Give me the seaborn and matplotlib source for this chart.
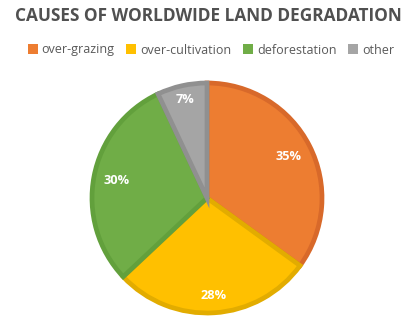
import matplotlib
matplotlib.use("Agg")
import matplotlib.pyplot as plt
import numpy as np
import seaborn as sns

# Causes of worldwide land degradation (share, %)
categories = ["over-grazing", "over-cultivation", "deforestation", "other"]
shares = [35, 28, 30, 7]
labels = ["35%", "28%", "30%", "7%"]

fill_colors = ["#ED7D31", "#FFC000", "#70AD47", "#A5A5A5"]
edge_colors = ["#D8692A", "#E2AC00", "#62A03C", "#909090"]

sns.set_theme(style="white")
plt.rcParams["font.family"] = ["Open Sans", "DejaVu Sans"]

fig = plt.figure(figsize=(4.14, 3.24), dpi=100)
fig.patch.set_facecolor("white")

ax = fig.add_axes([92 / 414, 11 / 324, 230 / 414, 230 / 324])
palette = sns.color_palette(fill_colors)

wedges, texts = ax.pie(
    shares,
    colors=palette,
    startangle=90,
    counterclock=False,
    wedgeprops=dict(linewidth=3.4),
)
for w, ec in zip(wedges, edge_colors):
    w.set_edgecolor(ec)

# value labels inside each slice
radii = [0.80, 0.85, 0.80, 0.88]
angle = 90.0
total = sum(shares)
for v, lab, r in zip(shares, labels, radii):
    span = 360.0 * v / total
    mid = np.deg2rad(angle - span / 2)
    ax.text(r * np.cos(mid), r * np.sin(mid), lab, ha="center", va="center",
            color="white", fontsize=9.2, fontweight="bold")
    angle -= span
ax.set_xlim(-1, 1)
ax.set_ylim(-1, 1)
ax.set_aspect("equal")
ax.axis("off")

fig.text(208 / 414, 1 - 16 / 324, "CAUSES OF WORLDWIDE LAND DEGRADATION",
         ha="center", va="center", fontsize=12.4, fontweight="bold", color="#505050")

handles = [plt.Rectangle((0, 0), 1, 1, facecolor=c, edgecolor="none") for c in fill_colors]
fig.legend(handles, categories, loc="center", bbox_to_anchor=(211 / 414, 1 - 50 / 324),
           ncol=4, frameon=False, fontsize=9, handlelength=0.8, handleheight=0.8,
           handletextpad=0.3, columnspacing=0.95, labelcolor="#595959")

fig.savefig("out.png", dpi=100, facecolor="white")
